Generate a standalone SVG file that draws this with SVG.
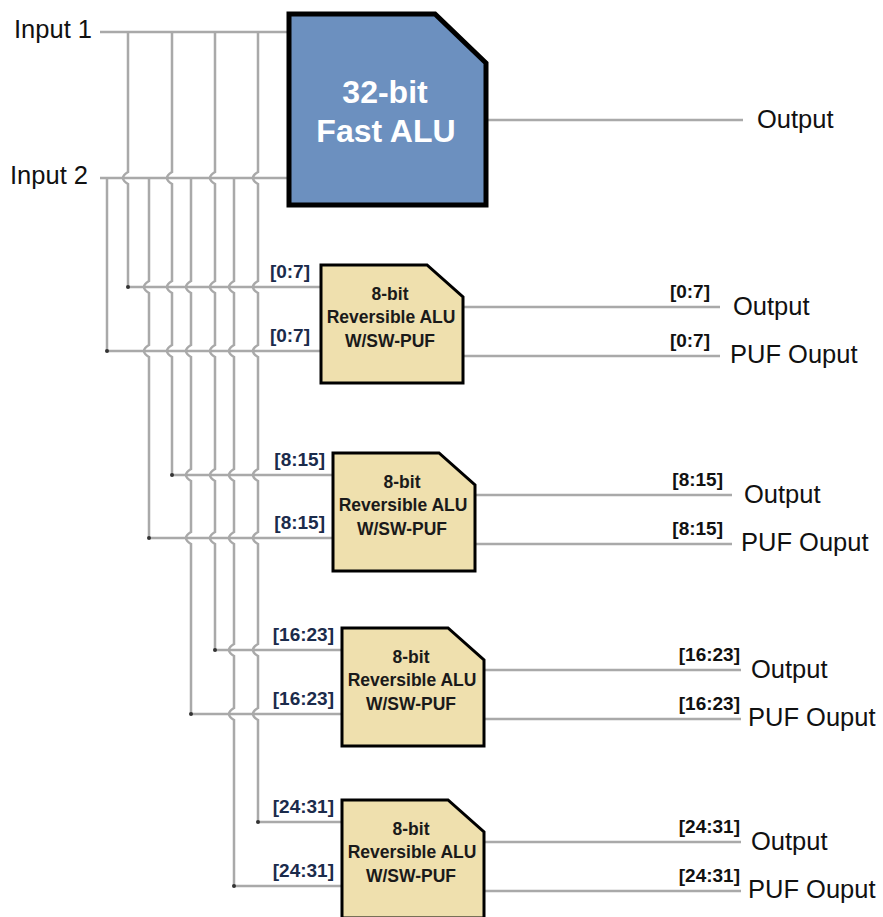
<svg xmlns="http://www.w3.org/2000/svg" width="883" height="917" viewBox="0 0 883 917">
<style>
.w{fill:none;stroke:#a9a9a9;stroke-width:2.5}
.dot{fill:#333}
.big{fill:#6c90bf;stroke:#000;stroke-width:5}
.blk{fill:#efe0ae;stroke:#000;stroke-width:3}
.io{font-family:"Liberation Sans",Arial,sans-serif;font-size:25.5px;fill:#111}
.bt{font-family:"Liberation Sans",Arial,sans-serif;font-size:32px;font-weight:bold;fill:#fff;text-anchor:middle}
.st{font-family:"Liberation Sans",Arial,sans-serif;font-size:17.5px;font-weight:bold;fill:#1a1a1a;text-anchor:middle}
.ll{font-family:"Liberation Sans",Arial,sans-serif;font-size:19px;font-weight:bold;fill:#1b2b4b;text-anchor:end}
.rl{font-family:"Liberation Sans",Arial,sans-serif;font-size:19px;font-weight:bold;fill:#111;text-anchor:end}
</style>
<defs>
<polygon id="blkshape" points="0,0 106,0 142,32 142,118 0,118"/>
</defs>
<g id="connectors">
<path class="w" d="M100,32 H288 M100,178 H288 M488,120 H743"/>
<path class="w" d="M128,287 H321 M107,351 H321 M463,307 H720 M463,356 H720"/>
<path class="w" d="M172,475 H333 M149,538 H333 M475,495 H732 M475,544 H732"/>
<path class="w" d="M215,650 H342 M191,714 H342 M484,670 H741 M484,719 H741"/>
<path class="w" d="M258,822 H342 M234,886 H342 M484,842 H741 M484,891 H741"/>
<path class="w" d="M128,32 L128,172 Q118,178 128,184 L128,287"/>
<path class="w" d="M107,178 L107,351"/>
<path class="w" d="M172,32 L172,172 Q162,178 172,184 L172,281 Q162,287 172,293 L172,345 Q162,351 172,357 L172,475"/>
<path class="w" d="M149,178 L149,281 Q139,287 149,293 L149,345 Q139,351 149,357 L149,538"/>
<path class="w" d="M215,32 L215,172 Q205,178 215,184 L215,281 Q205,287 215,293 L215,345 Q205,351 215,357 L215,469 Q205,475 215,481 L215,532 Q205,538 215,544 L215,650"/>
<path class="w" d="M191,178 L191,281 Q181,287 191,293 L191,345 Q181,351 191,357 L191,469 Q181,475 191,481 L191,532 Q181,538 191,544 L191,714"/>
<path class="w" d="M258,32 L258,172 Q248,178 258,184 L258,281 Q248,287 258,293 L258,345 Q248,351 258,357 L258,469 Q248,475 258,481 L258,532 Q248,538 258,544 L258,644 Q248,650 258,656 L258,708 Q248,714 258,720 L258,822"/>
<path class="w" d="M234,178 L234,281 Q224,287 234,293 L234,345 Q224,351 234,357 L234,469 Q224,475 234,481 L234,532 Q224,538 234,544 L234,644 Q224,650 234,656 L234,708 Q224,714 234,720 L234,886"/>
<circle class="dot" cx="128" cy="287" r="2"/>
<circle class="dot" cx="107" cy="351" r="2"/>
<circle class="dot" cx="172" cy="475" r="2"/>
<circle class="dot" cx="149" cy="538" r="2"/>
<circle class="dot" cx="215" cy="650" r="2"/>
<circle class="dot" cx="191" cy="714" r="2"/>
<circle class="dot" cx="258" cy="822" r="2"/>
<circle class="dot" cx="234" cy="886" r="2"/>
</g>
<g id="inputs">
<text class="io" x="14" y="38">Input 1</text>
<text class="io" x="10" y="184">Input 2</text>
</g>
<g id="fast-alu">
<polygon class="big" points="289,14 435,14 486,63 486,205 289,205"/>
<text class="bt" x="385" y="103">32-bit</text>
<text class="bt" x="386" y="142">Fast ALU</text>
<text class="io" x="757" y="128">Output</text>
</g>
<g id="alu-0-7">
<use href="#blkshape" class="blk" x="321" y="265"/>
<text class="st" x="390" y="300">8-bit</text>
<text class="st" x="391" y="323">Reversible ALU</text>
<text class="st" x="390" y="347">W/SW-PUF</text>
<text class="ll" x="310" y="278">[0:7]</text>
<text class="ll" x="310" y="342">[0:7]</text>
<text class="rl" x="710" y="298">[0:7]</text>
<text class="rl" x="710" y="347">[0:7]</text>
<text class="io" x="733" y="315">Output</text>
<text class="io" x="730" y="363">PUF Ouput</text>
</g>
<g id="alu-8-15">
<use href="#blkshape" class="blk" x="333" y="453"/>
<text class="st" x="402" y="488">8-bit</text>
<text class="st" x="403" y="511">Reversible ALU</text>
<text class="st" x="402" y="535">W/SW-PUF</text>
<text class="ll" x="325" y="466">[8:15]</text>
<text class="ll" x="325" y="529">[8:15]</text>
<text class="rl" x="723" y="486">[8:15]</text>
<text class="rl" x="723" y="535">[8:15]</text>
<text class="io" x="744" y="503">Output</text>
<text class="io" x="741" y="551">PUF Ouput</text>
</g>
<g id="alu-16-23">
<use href="#blkshape" class="blk" x="342" y="628"/>
<text class="st" x="411" y="663">8-bit</text>
<text class="st" x="412" y="686">Reversible ALU</text>
<text class="st" x="411" y="710">W/SW-PUF</text>
<text class="ll" x="334" y="641">[16:23]</text>
<text class="ll" x="334" y="705">[16:23]</text>
<text class="rl" x="740" y="661">[16:23]</text>
<text class="rl" x="740" y="710">[16:23]</text>
<text class="io" x="751" y="678">Output</text>
<text class="io" x="748" y="726">PUF Ouput</text>
</g>
<g id="alu-24-31">
<use href="#blkshape" class="blk" x="342" y="800"/>
<text class="st" x="411" y="835">8-bit</text>
<text class="st" x="412" y="858">Reversible ALU</text>
<text class="st" x="411" y="882">W/SW-PUF</text>
<text class="ll" x="334" y="813">[24:31]</text>
<text class="ll" x="334" y="877">[24:31]</text>
<text class="rl" x="740" y="833">[24:31]</text>
<text class="rl" x="740" y="882">[24:31]</text>
<text class="io" x="751" y="850">Output</text>
<text class="io" x="748" y="898">PUF Ouput</text>
</g>
</svg>
